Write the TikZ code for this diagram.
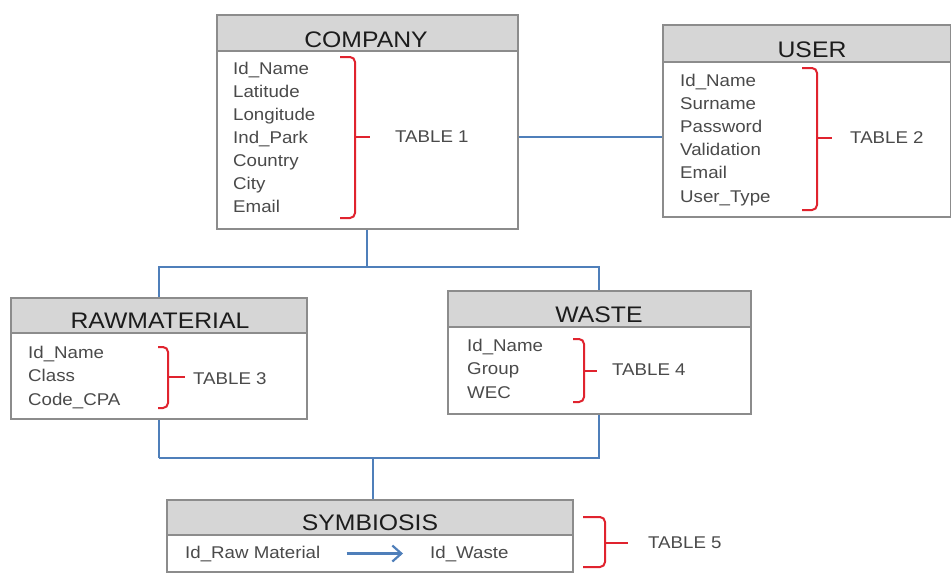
\documentclass[tikz,border=0pt]{standalone}
\usepackage{fontspec}
\setmainfont{Liberation Sans}[FakeStretch=1.1]
\usetikzlibrary{arrows.meta}
\definecolor{boxgray}{HTML}{8C8C8C}
\definecolor{headgray}{HTML}{D6D6D6}
\definecolor{fieldgray}{HTML}{4A4A4A}
\definecolor{titlecol}{HTML}{1C1C1C}
\definecolor{linkblue}{HTML}{4F7FBA}
\definecolor{bracered}{HTML}{E0232E}
\tikzset{
  tablebox/.style={draw=boxgray, line width=1.5pt, fill=white, inner sep=0pt, anchor=north west},
  tablehead/.style={draw=boxgray, line width=1.5pt, fill=headgray, inner sep=0pt, anchor=north west},
  title/.style={font=\fontsize{22.5}{26}\selectfont, text=titlecol, anchor=base, inner sep=0pt},
  field/.style={font=\fontsize{17}{20}\selectfont, text=fieldgray, anchor=base west, inner sep=0pt},
  tablab/.style={font=\fontsize{17}{20}\selectfont, text=fieldgray, anchor=west, inner sep=0pt},
  link/.style={draw=linkblue, line width=2pt},
  bracket/.style={draw=bracered, line width=2pt, rounded corners=5pt},
}
\begin{document}
\begin{tikzpicture}[x=1pt, y=-1pt]
\useasboundingbox (0,0) rectangle (951,573);

% ---------- COMPANY ----------
\node[tablebox, minimum width=301pt, minimum height=214pt] (company) at (216,14) {};
\node[tablehead, minimum width=301pt, minimum height=36pt] (companyhead) at (216,14) {};
\node[title] (companyt) at (366,47) {COMPANY};
\foreach \t [count=\i] in {Id\_Name,Latitude,Longitude,Ind\_Park,Country,City,Email}
  \node[field] (cf\i) at (233,{74+23*(\i-1)}) {\t};
\draw[bracket] (340,57) -- (355,57) -- (355,218) -- (340,218);
\draw[bracket, rounded corners=0pt] (355,137) -- (370,137);
\node[tablab] (tab1) at (395,137) {TABLE 1};

% ---------- USER ----------
\node[tablebox, minimum width=288pt, minimum height=192pt] (user) at (662,24) {};
\node[tablehead, minimum width=288pt, minimum height=37pt] (userhead) at (662,24) {};
\node[title] (usert) at (812,57) {USER};
\foreach \t [count=\i] in {Id\_Name,Surname,Password,Validation,Email,User\_Type}
  \node[field] (uf\i) at (680,{86+23.2*(\i-1)}) {\t};
\draw[bracket] (802,68) -- (817,68) -- (817,210) -- (802,210);
\draw[bracket, rounded corners=0pt] (817,138) -- (832,138);
\node[tablab] (tab2) at (850,138) {TABLE 2};

% ---------- RAWMATERIAL ----------
\node[tablebox, minimum width=296pt, minimum height=121pt] (raw) at (10,297) {};
\node[tablehead, minimum width=296pt, minimum height=35pt] (rawhead) at (10,297) {};
\node[title] (rawt) at (160,328) {RAWMATERIAL};
\foreach \t [count=\i] in {Id\_Name,Class,Code\_CPA}
  \node[field] (rf\i) at (28,{358+23.5*(\i-1)}) {\t};
\draw[bracket] (158,347) -- (168,347) -- (168,408) -- (158,408);
\draw[bracket, rounded corners=0pt] (168,377) -- (185,377);
\node[tablab] (tab3) at (193,379) {TABLE 3};

% ---------- WASTE ----------
\node[tablebox, minimum width=303pt, minimum height=123pt] (waste) at (447,290) {};
\node[tablehead, minimum width=303pt, minimum height=36pt] (wastehead) at (447,290) {};
\node[title] (wastet) at (599,322) {WASTE};
\foreach \t [count=\i] in {Id\_Name,Group,WEC}
  \node[field] (wf\i) at (467,{351+23.5*(\i-1)}) {\t};
\draw[bracket] (573,339) -- (584,339) -- (584,402) -- (573,402);
\draw[bracket, rounded corners=0pt] (584,371) -- (597,371);
\node[tablab] (tab4) at (612,370) {TABLE 4};

% ---------- SYMBIOSIS ----------
\node[tablebox, minimum width=406pt, minimum height=72pt] (sym) at (166,499) {};
\node[tablehead, minimum width=406pt, minimum height=35pt] (symhead) at (166,499) {};
\node[title] (symt) at (370,530) {SYMBIOSIS};
\node[field] (idraw) at (185,558) {Id\_Raw Material};
\node[field] (idwaste) at (430,558) {Id\_Waste};
\draw[link, line width=2.2pt, -{Straight Barb[length=9pt, width=16pt, line width=2.2pt]}]
  ([xshift=26pt]idraw.east) -- ([xshift=-27pt]idwaste.west);
\draw[bracket] (583,517) -- (605,517) -- (605,567) -- (583,567);
\draw[bracket, rounded corners=0pt] (605,543) -- (628,543);
\node[tablab] (tab5) at (648,543) {TABLE 5};

% ---------- relations ----------
\draw[link] (company.east |- 0,137) -- (user.west |- 0,137);
\draw[link] (company.south) -- ++(0,37) coordinate (jtop);
\draw[link] (rawhead.north) |- (jtop) -| (wastehead.north);
\draw[link] (raw.south) -- ++(0,38) coordinate (jbot);
\draw[link] (waste.south) |- (jbot);
\draw[link] (symhead.north -| 373,0) -- (jbot -| 373,0);
\end{tikzpicture}
\end{document}
